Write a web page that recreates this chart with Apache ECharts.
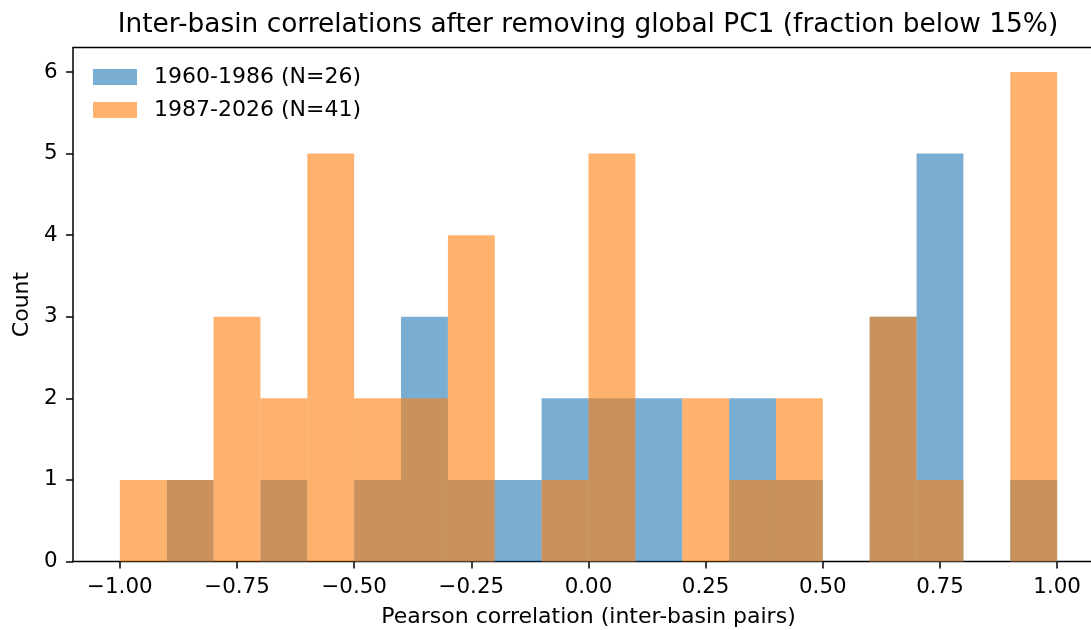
<!DOCTYPE html>
<html>
<head>
<meta charset="utf-8">
<title>Inter-basin correlations</title>
<script src="https://cdn.jsdelivr.net/npm/echarts@6/dist/echarts.min.js"></script>
<style>
  html, body { margin: 0; padding: 0; background: #fff; }
  #chart { width: 1091px; height: 630px; }
</style>
</head>
<body>
<div id="chart"></div>
<script>
// Histogram bin edges (width 0.1)
const binEdges = [-1.0, -0.9, -0.8, -0.7, -0.6, -0.5, -0.4, -0.3, -0.2, -0.1, 0.0,
                  0.1, 0.2, 0.3, 0.4, 0.5, 0.6, 0.7, 0.8, 0.9, 1.0];
// Counts per bin for each period
const countsEarly = [0, 1, 0, 1, 0, 1, 3, 1, 1, 2, 2, 2, 0, 2, 1, 0, 3, 5, 0, 1];
const countsLate  = [1, 1, 3, 2, 5, 2, 2, 4, 0, 1, 5, 0, 2, 1, 2, 0, 3, 1, 0, 6];
const seriesNames = ['1960-1986 (N=26)', '1987-2026 (N=41)'];
const xTicks = [-1.0, -0.75, -0.5, -0.25, 0.0, 0.25, 0.5, 0.75, 1.0];
const yTicks = [0, 1, 2, 3, 4, 5, 6];

const FONT = 'DejaVu Sans';
const colors = ['#1f77b4', '#ff7f0e'];
const legendColors = ['#79add2', '#ffb26e'];

function binData(counts) {
  return counts.map((c, i) => [binEdges[i], binEdges[i + 1], c]);
}

function histSeries(name, counts, color) {
  return {
    name: name,
    type: 'custom',
    itemStyle: { color: color, opacity: 0.6 },
    encode: { x: [0, 1], y: 2 },
    data: binData(counts),
    renderItem: function (params, api) {
      const c = api.value(2);
      if (!c) return null;
      const p0 = api.coord([api.value(0), c]);
      const p1 = api.coord([api.value(1), 0]);
      return {
        type: 'rect',
        shape: { x: p0[0], y: p0[1], width: p1[0] - p0[0], height: p1[1] - p0[1] },
        style: { fill: color, opacity: 0.6 }
      };
    }
  };
}

const fmtTick = v => (v < 0 ? '\u2212' : '') + Math.abs(v).toFixed(2);

const chart = echarts.init(document.getElementById('chart'), null, { renderer: 'canvas' });
chart.setOption({
  animation: false,
  backgroundColor: '#fff',
  textStyle: { fontFamily: FONT },
  title: {
    text: 'Inter-basin correlations after removing global PC1 (fraction below 15%)',
    left: 588,
    textAlign: 'center',
    top: 12,
    padding: 0,
    textStyle: { fontFamily: FONT, fontSize: 26.4, fontWeight: 'normal', color: '#000' }
  },
  legend: {
    orient: 'vertical',
    left: 93,
    top: 66,
    padding: 0,
    itemWidth: 44,
    itemHeight: 16,
    itemGap: 11,
    icon: 'rect',
    data: seriesNames.map((n, i) => ({ name: n, itemStyle: { color: legendColors[i], opacity: 1 } })),
    textStyle: { fontFamily: FONT, fontSize: 22, color: '#000', padding: [0, 0, 0, 12] }
  },
  grid: {
    left: 73,
    top: 47.5,
    width: 1031,
    height: 514,
    outerBoundsMode: 'none',
    containLabel: false,
    show: true,
    borderColor: '#000',
    borderWidth: 1.5,
    backgroundColor: 'transparent'
  },
  xAxis: {
    type: 'value',
    min: -1.1,
    max: 1.1,
    name: 'Pearson correlation (inter-basin pairs)',
    nameLocation: 'middle',
    nameGap: 45,
    nameTextStyle: { fontFamily: FONT, fontSize: 22, color: '#000' },
    axisLine: { show: false, onZero: false },
    splitLine: { show: false },
    axisTick: { show: true, customValues: xTicks, length: 7, lineStyle: { color: '#000', width: 1.5 } },
    axisLabel: { customValues: xTicks, formatter: fmtTick, margin: 15.5, fontFamily: FONT, fontSize: 21.4, color: '#000' }
  },
  yAxis: {
    type: 'value',
    min: 0,
    max: 6.3,
    name: 'Count',
    nameLocation: 'middle',
    nameGap: 40,
    nameTextStyle: { fontFamily: FONT, fontSize: 22, color: '#000' },
    axisLine: { show: false, onZero: false },
    splitLine: { show: false },
    axisTick: { show: true, customValues: yTicks, length: 7, lineStyle: { color: '#000', width: 1.5 } },
    axisLabel: { customValues: yTicks, margin: 15.5, fontFamily: FONT, fontSize: 21.4, color: '#000' }
  },
  series: [
    histSeries(seriesNames[0], countsEarly, colors[0]),
    histSeries(seriesNames[1], countsLate, colors[1])
  ]
});
</script>
</body>
</html>
